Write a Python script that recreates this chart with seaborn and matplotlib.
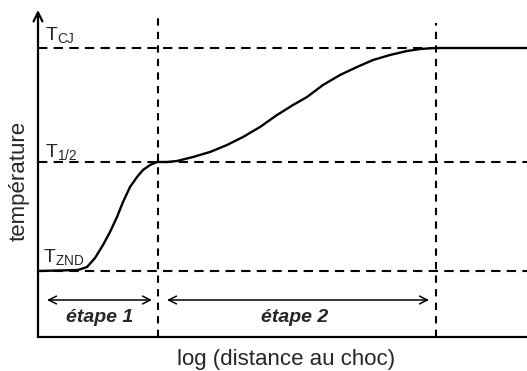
import matplotlib
matplotlib.use("Agg")
import matplotlib.pyplot as plt
import seaborn as sns
import pandas as pd

# schematic temperature profile behind the shock (arbitrary units)
distance = [0, 40, 49, 57, 65, 72, 79, 85, 92, 99, 105, 112, 119, 129,
            139, 155, 172, 189, 205, 222, 239, 255, 269, 285, 302, 319, 335,
            352, 369, 382, 397, 489]
temperature = [66, 67, 70, 79, 92, 105, 120, 135, 150, 160, 167, 172, 175, 175,
               176, 180, 185, 192, 200, 210, 222, 232, 240, 252, 262, 270, 277,
               282, 286, 288, 289, 289]

levels = {"ZND": 66, "1/2": 175, "CJ": 289}
x_half = 120      # end of stage 1
x_cj = 398        # end of stage 2
x_max = 489
y_max = 327

df = pd.DataFrame({"distance": distance, "temperature": temperature})

sns.set_style("white")
plt.rcParams["font.family"] = ["Liberation Sans", "DejaVu Sans"]
plt.rcParams["mathtext.fontset"] = "custom"
plt.rcParams["mathtext.rm"] = "Liberation Sans"
plt.rcParams["mathtext.it"] = "Liberation Sans:italic"

fig = plt.figure(figsize=(5.27, 3.71), dpi=100)
ax = fig.add_axes([38 / 527, 34 / 371, 489 / 527, 327 / 371])

dash = (0, (4.5, 3))
# horizontal reference levels
ax.plot([0, x_max], [levels["ZND"]] * 2, color="black", lw=1.5, linestyle=dash)
ax.plot([0, x_max], [levels["1/2"]] * 2, color="black", lw=1.5, linestyle=dash)
ax.plot([0, x_cj], [levels["CJ"]] * 2, color="black", lw=1.5, linestyle=dash)
# vertical stage limits
ax.plot([x_half, x_half], [0, 320], color="black", lw=1.5, linestyle=(0, (3.5, 3)))
ax.plot([x_cj, x_cj], [0, 314], color="black", lw=1.5, linestyle=(0, (3.5, 3)))

sns.lineplot(data=df, x="distance", y="temperature", color="black", lw=1.7, ax=ax,
             sort=False, estimator=None)

# level labels
ax.text(7, 297, r"$\mathregular{T_{CJ}}$", fontsize=14, ha="left", va="baseline")
ax.text(7, 180, r"$\mathregular{T_{1/2}}$", fontsize=14, ha="left", va="baseline")
ax.text(5, 75, r"$\mathregular{T_{ZND}}$", fontsize=14, ha="left", va="baseline")

# stage arrows
arrow = dict(arrowstyle="<->", lw=1.1, color="black", mutation_scale=14,
             shrinkA=0, shrinkB=0)
ax.annotate("", xy=(9, 37), xytext=(114, 37), arrowprops=arrow)
ax.annotate("", xy=(129, 37), xytext=(391, 37), arrowprops=arrow)
ax.text(62, 19, "étape 1", fontsize=14, fontweight="bold", style="italic",
        ha="center", va="center")
ax.text(257, 19, "étape 2", fontsize=14, fontweight="bold", style="italic",
        ha="center", va="center")

# temperature axis with arrow
ax.annotate("", xy=(0, y_max), xytext=(0, 0),
            arrowprops=dict(arrowstyle="->", lw=1.6, color="black",
                            mutation_scale=16, shrinkA=0, shrinkB=0),
            annotation_clip=False)

ax.set_xlim(0, x_max)
ax.set_ylim(0, y_max)
ax.set_xticks([])
ax.set_yticks([])
ax.set_xlabel("")
ax.set_ylabel("")
for side in ["top", "right", "left"]:
    ax.spines[side].set_visible(False)
ax.spines["bottom"].set_linewidth(1.6)
ax.spines["bottom"].set_color("black")

fig.text(286 / 527, 1 - 360 / 371, "log (distance au choc)", fontsize=16,
         ha="center", va="center")
fig.text(19 / 527, 1 - 181 / 371, "température", fontsize=16, rotation=90,
         ha="center", va="center")

fig.savefig("out.png", dpi=100)
